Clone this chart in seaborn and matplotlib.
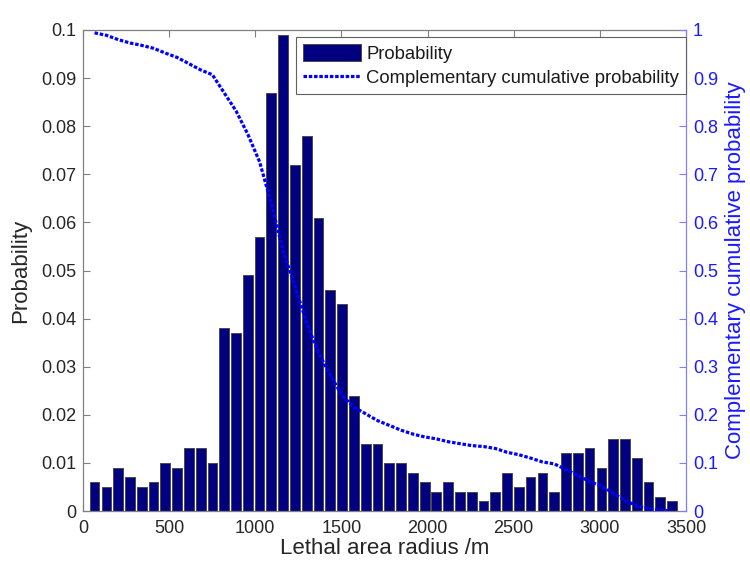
import matplotlib
matplotlib.use("Agg")
import matplotlib.pyplot as plt
import seaborn as sns
import pandas as pd
from matplotlib.patches import Patch
from matplotlib.lines import Line2D

# ---------------- data ----------------
bin_centers = [67, 136, 204, 273, 341, 409, 478, 546, 615, 683,
               751, 820, 888, 957, 1025, 1093, 1162, 1230, 1299, 1367,
               1435, 1504, 1572, 1641, 1709, 1778, 1846, 1914, 1983, 2051,
               2120, 2188, 2256, 2325, 2393, 2462, 2530, 2598, 2667, 2735,
               2804, 2872, 2940, 3009, 3077, 3146, 3214, 3282, 3351, 3419]
probability = [0.006, 0.005, 0.009, 0.007, 0.005, 0.006, 0.010, 0.009, 0.013, 0.013,
               0.010, 0.038, 0.037, 0.049, 0.057, 0.087, 0.099, 0.072, 0.078, 0.061,
               0.046, 0.043, 0.024, 0.014, 0.014, 0.010, 0.010, 0.008, 0.006, 0.004,
               0.006, 0.004, 0.004, 0.002, 0.004, 0.008, 0.005, 0.007, 0.008, 0.004,
               0.012, 0.012, 0.013, 0.009, 0.015, 0.015, 0.011, 0.006, 0.003, 0.002]
ccdf = [0.994, 0.989, 0.980, 0.973, 0.968, 0.962, 0.952, 0.943, 0.930, 0.917,
        0.907, 0.869, 0.832, 0.783, 0.726, 0.639, 0.540, 0.468, 0.390, 0.329,
        0.283, 0.240, 0.216, 0.202, 0.188, 0.178, 0.168, 0.160, 0.154, 0.150,
        0.144, 0.140, 0.136, 0.134, 0.130, 0.122, 0.117, 0.110, 0.102, 0.098,
        0.086, 0.074, 0.061, 0.052, 0.037, 0.022, 0.011, 0.005, 0.002, 0.000]

x_ticks = [0, 500, 1000, 1500, 2000, 2500, 3000, 3500]
x_tick_labels = ["0", "500", "1000", "1500", "2000", "2500", "3000", "3500"]
left_ticks = [0, 0.01, 0.02, 0.03, 0.04, 0.05, 0.06, 0.07, 0.08, 0.09, 0.1]
left_tick_labels = ["0", "0.01", "0.02", "0.03", "0.04", "0.05", "0.06",
                    "0.07", "0.08", "0.09", "0.1"]
right_ticks = [0, 0.1, 0.2, 0.3, 0.4, 0.5, 0.6, 0.7, 0.8, 0.9, 1]
right_tick_labels = ["0", "0.1", "0.2", "0.3", "0.4", "0.5", "0.6",
                     "0.7", "0.8", "0.9", "1"]

df = pd.DataFrame({"radius": bin_centers, "prob": probability, "ccdf": ccdf})

# ---------------- style ----------------
sns.set_style("white")
plt.rcParams["font.family"] = ["Liberation Sans", "DejaVu Sans"]

BAR_COLOR = "#000080"
LINE_COLOR = "#0000ff"
SPINE_GRAY = "#808080"
RIGHT_SPINE = "#8080ff"
TEXT_DARK = "#262626"
RIGHT_TEXT = "#1a1aff"
TICK_FS = 13
LEGEND_FS = 13.3
LABEL_FS = 16

fig = plt.figure(figsize=(7.5, 5.65), dpi=100)
ax = fig.add_axes([83 / 750, (565 - 511) / 565, 603 / 750, 481 / 565])

sns.barplot(data=df, x="radius", y="prob", native_scale=True, width=0.83,
            color=BAR_COLOR, saturation=1, edgecolor="#4a4a4a", linewidth=0.7,
            ax=ax, errorbar=None)

ax.set_xlim(0, 3500)
ax.set_ylim(0, 0.1)
ax.set_xticks(x_ticks)
ax.set_xticklabels(x_tick_labels)
ax.set_yticks(left_ticks)
ax.set_yticklabels(left_tick_labels)
ax.tick_params(axis="both", direction="in", length=5, width=0.8,
               colors=SPINE_GRAY, labelcolor=TEXT_DARK, labelsize=TICK_FS, pad=5)
ax.tick_params(axis="x", top=True, bottom=True, pad=6.5)
ax.tick_params(axis="y", left=True, right=False)
for side in ["left", "bottom", "top"]:
    ax.spines[side].set_color(SPINE_GRAY)
    ax.spines[side].set_linewidth(0.9)
ax.spines["right"].set_visible(False)
ax.set_xlabel("Lethal area radius /m", fontsize=LABEL_FS, color=TEXT_DARK, labelpad=1)
ax.set_ylabel("Probability", fontsize=LABEL_FS, color=TEXT_DARK, labelpad=7)

ax2 = ax.twinx()
sns.lineplot(data=df, x="radius", y="ccdf", ax=ax2, color=LINE_COLOR,
             linewidth=2.3, linestyle=(0, (1.1, 0.55)))
ax2.set_ylim(0, 1)
ax2.set_xlim(0, 3500)
ax2.set_yticks(right_ticks)
ax2.set_yticklabels(right_tick_labels)
ax2.tick_params(axis="y", direction="in", length=5, width=0.8, colors=RIGHT_SPINE,
                labelcolor=RIGHT_TEXT, labelsize=TICK_FS, pad=5)
for side in ["left", "bottom", "top"]:
    ax2.spines[side].set_visible(False)
ax2.spines["right"].set_color(RIGHT_SPINE)
ax2.spines["right"].set_linewidth(0.9)
ax2.set_ylabel("Complementary cumulative probability", fontsize=LABEL_FS,
               color=RIGHT_TEXT, labelpad=5)

handles = [Patch(facecolor=BAR_COLOR, edgecolor="#4a4a4a", linewidth=0.7),
           Line2D([0], [0], color=LINE_COLOR, linewidth=2.3,
                  linestyle=(0, (1.1, 0.55)))]
leg = ax2.legend(handles, ["Probability", "Complementary cumulative probability"],
                 loc="upper right", bbox_to_anchor=(1.0, 1 - 7 / 481),
                 borderaxespad=0, fontsize=LEGEND_FS, frameon=True, fancybox=False,
                 framealpha=1, edgecolor="#606060", handlelength=3.1,
                 handleheight=1.05, handletextpad=0.3, labelspacing=0.3,
                 borderpad=0.38)
leg.get_frame().set_linewidth(0.8)
for t in leg.get_texts():
    t.set_color("#1a1a1a")

fig.savefig("out.png", dpi=100)
